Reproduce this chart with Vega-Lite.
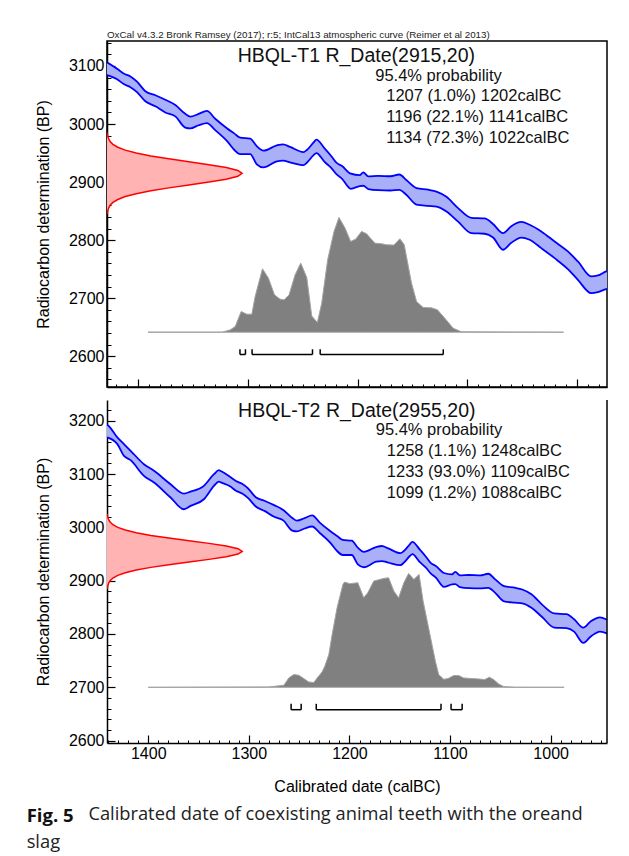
{
  "$schema": "https://vega.github.io/schema/vega-lite/v6.json",
  "padding": {"left": 26, "top": 29, "right": 5, "bottom": 5},
  "background": "white",
  "datasets": {
    "intcal": [
      {"cal": 1443, "hi": 3194, "lo": 3170},
      {"cal": 1440.7, "hi": 3192.5, "lo": 3168.7},
      {"cal": 1430.7, "hi": 3168.7, "lo": 3156.2},
      {"cal": 1424.1, "hi": 3156.2, "lo": 3134.3},
      {"cal": 1417.5, "hi": 3143.7, "lo": 3126.1},
      {"cal": 1404.3, "hi": 3118.6, "lo": 3096.7},
      {"cal": 1394.3, "hi": 3106.1, "lo": 3084.1},
      {"cal": 1377.8, "hi": 3081.0, "lo": 3056.0},
      {"cal": 1364.6, "hi": 3063.5, "lo": 3034.0},
      {"cal": 1357.9, "hi": 3067.2, "lo": 3040.3},
      {"cal": 1344.7, "hi": 3077.9, "lo": 3052.8},
      {"cal": 1334.7, "hi": 3099.8, "lo": 3077.9},
      {"cal": 1329.8, "hi": 3107.3, "lo": 3086.0},
      {"cal": 1327.9, "hi": 3105.7, "lo": 3084.4},
      {"cal": 1318.8, "hi": 3095, "lo": 3077},
      {"cal": 1312.8, "hi": 3087, "lo": 3068.8},
      {"cal": 1306.7, "hi": 3081.8, "lo": 3063.5},
      {"cal": 1300.7, "hi": 3073, "lo": 3055},
      {"cal": 1293.1, "hi": 3056.5, "lo": 3039.2},
      {"cal": 1284.0, "hi": 3049.6, "lo": 3030.5},
      {"cal": 1274.9, "hi": 3041.7, "lo": 3019.9},
      {"cal": 1265.8, "hi": 3032.7, "lo": 3013.2},
      {"cal": 1256.8, "hi": 3017.6, "lo": 2993.9},
      {"cal": 1252.2, "hi": 3012.7, "lo": 2992.4},
      {"cal": 1244.6, "hi": 3017.4, "lo": 2997.9},
      {"cal": 1237.1, "hi": 3022.5, "lo": 3001.7},
      {"cal": 1229.5, "hi": 3009, "lo": 2989.5},
      {"cal": 1218.9, "hi": 2992.8, "lo": 2970.9},
      {"cal": 1212.3, "hi": 2983.9, "lo": 2955.7},
      {"cal": 1206.8, "hi": 2976.6, "lo": 2948.2},
      {"cal": 1197.7, "hi": 2975, "lo": 2948.2},
      {"cal": 1191.7, "hi": 2962, "lo": 2930.6},
      {"cal": 1185.6, "hi": 2954.2, "lo": 2925.2},
      {"cal": 1173.5, "hi": 2963.2, "lo": 2935.6},
      {"cal": 1167.8, "hi": 2965.1, "lo": 2936.9},
      {"cal": 1161.4, "hi": 2960.5, "lo": 2933.9},
      {"cal": 1149.3, "hi": 2951.6, "lo": 2929.1},
      {"cal": 1145.9, "hi": 2955.7, "lo": 2933.8},
      {"cal": 1140.0, "hi": 2968.2, "lo": 2946.3},
      {"cal": 1137.5, "hi": 2973, "lo": 2950},
      {"cal": 1130.0, "hi": 2958.2, "lo": 2934.7},
      {"cal": 1124.0, "hi": 2945, "lo": 2924.4},
      {"cal": 1119.0, "hi": 2933, "lo": 2913.2},
      {"cal": 1114.1, "hi": 2927.5, "lo": 2905.6},
      {"cal": 1106.1, "hi": 2914.4, "lo": 2888.4},
      {"cal": 1098.1, "hi": 2911.8, "lo": 2893.0},
      {"cal": 1094.8, "hi": 2916.7, "lo": 2893.7},
      {"cal": 1090.2, "hi": 2909.9, "lo": 2888.0},
      {"cal": 1081.2, "hi": 2910.7, "lo": 2886},
      {"cal": 1070, "hi": 2910, "lo": 2885.5},
      {"cal": 1062, "hi": 2913, "lo": 2886.5},
      {"cal": 1055.4, "hi": 2903, "lo": 2877.7},
      {"cal": 1046.3, "hi": 2889.7, "lo": 2861.2},
      {"cal": 1035.7, "hi": 2886.8, "lo": 2858.9},
      {"cal": 1028.2, "hi": 2883.5, "lo": 2857.6},
      {"cal": 1019.1, "hi": 2874.6, "lo": 2849.2},
      {"cal": 1008.5, "hi": 2855.2, "lo": 2831.8},
      {"cal": 996.4, "hi": 2838.5, "lo": 2812},
      {"cal": 984.3, "hi": 2837.3, "lo": 2811},
      {"cal": 976.7, "hi": 2827.8, "lo": 2804.4},
      {"cal": 967.6, "hi": 2811.9, "lo": 2783.4},
      {"cal": 960.1, "hi": 2823.9, "lo": 2795.4},
      {"cal": 951.0, "hi": 2831.3, "lo": 2804.4},
      {"cal": 943.4, "hi": 2826.4, "lo": 2800.6},
      {"cal": 932.8, "hi": 2814.9, "lo": 2786.2},
      {"cal": 920.7, "hi": 2797.7, "lo": 2769.0},
      {"cal": 908.6, "hi": 2780.5, "lo": 2750.0},
      {"cal": 899.5, "hi": 2763.2, "lo": 2731.6},
      {"cal": 887.4, "hi": 2737.4, "lo": 2708.6},
      {"cal": 881.3, "hi": 2739.1, "lo": 2710.3},
      {"cal": 873.8, "hi": 2746.0, "lo": 2715.5},
      {"cal": 871, "hi": 2747.5, "lo": 2716.5}
    ],
    "red1": [
      {"bp": 2845, "cal": 1327.7}, {"bp": 2850, "cal": 1327.4}, {"bp": 2855, "cal": 1326.6},
      {"bp": 2860, "cal": 1325.2}, {"bp": 2865, "cal": 1322.6}, {"bp": 2870, "cal": 1318.2},
      {"bp": 2875, "cal": 1311.4}, {"bp": 2880, "cal": 1301.4}, {"bp": 2885, "cal": 1288.1},
      {"bp": 2890, "cal": 1271.7}, {"bp": 2895, "cal": 1253.5}, {"bp": 2900, "cal": 1235.2},
      {"bp": 2905, "cal": 1219.5}, {"bp": 2910, "cal": 1208.9}, {"bp": 2915, "cal": 1205.1},
      {"bp": 2920, "cal": 1208.9}, {"bp": 2925, "cal": 1219.5}, {"bp": 2930, "cal": 1235.2},
      {"bp": 2935, "cal": 1253.5}, {"bp": 2940, "cal": 1271.7}, {"bp": 2945, "cal": 1288.1},
      {"bp": 2950, "cal": 1301.4}, {"bp": 2955, "cal": 1311.4}, {"bp": 2960, "cal": 1318.2},
      {"bp": 2965, "cal": 1322.6}, {"bp": 2970, "cal": 1325.2}, {"bp": 2975, "cal": 1326.6},
      {"bp": 2980, "cal": 1327.4}, {"bp": 2985, "cal": 1327.7}
    ],
    "red2": [
      {"bp": 2885, "cal": 1440.7}, {"bp": 2890, "cal": 1440.3}, {"bp": 2895, "cal": 1439.5},
      {"bp": 2900, "cal": 1437.9}, {"bp": 2905, "cal": 1435.1}, {"bp": 2910, "cal": 1430.3},
      {"bp": 2915, "cal": 1422.8}, {"bp": 2920, "cal": 1411.9}, {"bp": 2925, "cal": 1397.4},
      {"bp": 2930, "cal": 1379.5}, {"bp": 2935, "cal": 1359.5}, {"bp": 2940, "cal": 1339.6},
      {"bp": 2945, "cal": 1322.4}, {"bp": 2950, "cal": 1310.7}, {"bp": 2955, "cal": 1306.6},
      {"bp": 2960, "cal": 1310.7}, {"bp": 2965, "cal": 1322.4}, {"bp": 2970, "cal": 1339.6},
      {"bp": 2975, "cal": 1359.5}, {"bp": 2980, "cal": 1379.5}, {"bp": 2985, "cal": 1397.4},
      {"bp": 2990, "cal": 1411.9}, {"bp": 2995, "cal": 1422.8}, {"bp": 3000, "cal": 1430.3},
      {"bp": 3005, "cal": 1435.1}, {"bp": 3010, "cal": 1437.9}, {"bp": 3015, "cal": 1439.5},
      {"bp": 3020, "cal": 1440.3}, {"bp": 3025, "cal": 1440.7}
    ],
    "grey1": [
      {"cal": 1290.7, "bp": 2641.4}, {"cal": 1223.4, "bp": 2641.4}, {"cal": 1215.9, "bp": 2645.4},
      {"cal": 1211.3, "bp": 2651.2}, {"cal": 1205.9, "bp": 2677.0}, {"cal": 1200.8, "bp": 2672.4},
      {"cal": 1196.2, "bp": 2672.4}, {"cal": 1193.2, "bp": 2702.9}, {"cal": 1186.5, "bp": 2750.6},
      {"cal": 1181.1, "bp": 2734.5}, {"cal": 1175.6, "bp": 2705.7}, {"cal": 1170.5, "bp": 2698.3},
      {"cal": 1166.8, "bp": 2697.1}, {"cal": 1162.3, "bp": 2705.7}, {"cal": 1156.8, "bp": 2740.2},
      {"cal": 1151.7, "bp": 2760.4}, {"cal": 1146.2, "bp": 2735.6}, {"cal": 1141.7, "bp": 2669.5},
      {"cal": 1136.6, "bp": 2658.0}, {"cal": 1132.6, "bp": 2691.4}, {"cal": 1127.2, "bp": 2766.1},
      {"cal": 1121.4, "bp": 2815.0}, {"cal": 1116.9, "bp": 2839.1}, {"cal": 1111.4, "bp": 2820.7},
      {"cal": 1106.3, "bp": 2797.7}, {"cal": 1101.7, "bp": 2801.7}, {"cal": 1096.3, "bp": 2815.0},
      {"cal": 1091.8, "bp": 2810.9}, {"cal": 1084.2, "bp": 2794.8}, {"cal": 1078.1, "bp": 2793.7},
      {"cal": 1073.6, "bp": 2791.9}, {"cal": 1066.9, "bp": 2791.4}, {"cal": 1061.5, "bp": 2802.3},
      {"cal": 1057.5, "bp": 2791.9}, {"cal": 1050.9, "bp": 2725.9}, {"cal": 1046.3, "bp": 2694.3},
      {"cal": 1040.3, "bp": 2683.9}, {"cal": 1032.7, "bp": 2683.3}, {"cal": 1027.3, "bp": 2679.9},
      {"cal": 1020.6, "bp": 2665.5}, {"cal": 1013.0, "bp": 2648.3}, {"cal": 1005.5, "bp": 2642.0},
      {"cal": 912.5, "bp": 2641.4}
    ],
    "grey2": [
      {"cal": 1400, "bp": 2700}, {"cal": 1280.1, "bp": 2700.7}, {"cal": 1265.2, "bp": 2703.8},
      {"cal": 1260.3, "bp": 2717.6}, {"cal": 1255.3, "bp": 2723.9}, {"cal": 1250.3, "bp": 2722.6},
      {"cal": 1245.4, "bp": 2716.3}, {"cal": 1240.4, "bp": 2710.1}, {"cal": 1235.4, "bp": 2708.8},
      {"cal": 1232.1, "bp": 2717.6}, {"cal": 1227.2, "bp": 2728.9}, {"cal": 1224.5, "bp": 2739.5},
      {"cal": 1220.5, "bp": 2761.5}, {"cal": 1217.2, "bp": 2799.1}, {"cal": 1212.3, "bp": 2849.2},
      {"cal": 1206.5, "bp": 2893.0}, {"cal": 1204.9, "bp": 2897.4}, {"cal": 1199.7, "bp": 2894.3},
      {"cal": 1191.7, "bp": 2896.2}, {"cal": 1185.8, "bp": 2868.0}, {"cal": 1181.8, "bp": 2877.4},
      {"cal": 1175.8, "bp": 2899.3}, {"cal": 1165.9, "bp": 2904.3}, {"cal": 1161.1, "bp": 2905.6},
      {"cal": 1155.9, "bp": 2880.5}, {"cal": 1151.1, "bp": 2868.0}, {"cal": 1145.9, "bp": 2896.2},
      {"cal": 1141.2, "bp": 2913.7}, {"cal": 1136.0, "bp": 2902.4}, {"cal": 1130.8, "bp": 2911.8},
      {"cal": 1126.8, "bp": 2861.7}, {"cal": 1120.0, "bp": 2799.1}, {"cal": 1114.6, "bp": 2748.9},
      {"cal": 1111.3, "bp": 2723.9}, {"cal": 1106.3, "bp": 2715.1}, {"cal": 1102.0, "bp": 2716.3},
      {"cal": 1096.4, "bp": 2722.0}, {"cal": 1091.4, "bp": 2722.0}, {"cal": 1086.5, "bp": 2717.6},
      {"cal": 1078.2, "bp": 2716.3}, {"cal": 1071.6, "bp": 2715.7}, {"cal": 1065.6, "bp": 2714.5},
      {"cal": 1061.0, "bp": 2718.9}, {"cal": 1056.7, "bp": 2714.5}, {"cal": 1051.7, "bp": 2706.3},
      {"cal": 1046.8, "bp": 2701.3}, {"cal": 1035.2, "bp": 2700.1}, {"cal": 986.6, "bp": 2700}
    ],
    "ranges1": [{"a": 1207, "b": 1202}, {"a": 1196, "b": 1141}, {"a": 1134, "b": 1022}],
    "ranges2": [{"a": 1258, "b": 1248}, {"a": 1233, "b": 1109}, {"a": 1099, "b": 1088}],
    "info1": [
      {"t": "95.4% probability", "cal": 1083.9, "bp": 3083.3},
      {"t": "1207 (1.0%) 1202calBC", "cal": 1073.9, "bp": 3047.8},
      {"t": "1196 (22.1%) 1141calBC", "cal": 1073.9, "bp": 3011.6},
      {"t": "1134 (72.3%) 1022calBC", "cal": 1073.9, "bp": 2975.9}
    ],
    "info2": [
      {"t": "95.4% probability", "cal": 1173.9, "bp": 3182.5},
      {"t": "1258 (1.1%) 1248calBC", "cal": 1162.9, "bp": 3143},
      {"t": "1233 (93.0%) 1109calBC", "cal": 1162.9, "bp": 3104},
      {"t": "1099 (1.2%) 1088calBC", "cal": 1162.9, "bp": 3065.4}
    ],
    "one": [{}]
  },
  "title": {
    "text": "Fig. 5",
    "subtitle": ["\u200b\u00a0\u00a0\u00a0\u00a0\u00a0\u00a0\u00a0\u00a0\u00a0\u00a0\u00a0\u00a0\u00a0Calibrated date of coexisting animal teeth with the oreand", "slag"],
    "orient": "bottom", "anchor": "start", "frame": "bounds", "dx": -8, "offset": 13,
    "font": "Open Sans", "fontSize": 18.5, "fontWeight": "bold", "color": "#111111",
    "subtitleFont": "Open Sans", "subtitleFontSize": 18.3, "subtitleFontWeight": "normal",
    "subtitleColor": "#222222", "subtitlePadding": -20, "subtitleLineHeight": 28
  },
  "spacing": 10,
  "resolve": {"scale": {"x": "independent", "y": "independent"}},
  "vconcat": [
    {
      "width": 500, "height": 346,
      "title": {"text": "OxCal v4.3.2 Bronk Ramsey (2017); r:5; IntCal13 atmospheric curve (Reimer et al 2013)", "anchor": "start", "frame": "group", "fontSize": 9.8, "fontWeight": "normal", "font": "Liberation Sans", "offset": 1, "color": "#222222"},
      "view": {"stroke": "black", "strokeWidth": 1.5},
      "resolve": {"axis": {"x": "independent", "y": "independent"}},
      "layer": [
        {
          "data": {"name": "intcal"},
          "mark": {"type": "area", "color": "#aab0f8", "clip": true, "interpolate": "monotone"},
          "encoding": {
            "x": {"field": "cal", "type": "quantitative", "scale": {"domain": [1328, 873], "nice": false, "zero": false},
                  "axis": {"orient": "bottom", "values": [1300, 1200, 1100, 1000, 900], "labels": false, "tickSize": -8, "tickWidth": 1.2, "domain": true, "domainWidth": 1.5, "title": null, "grid": false}},
            "y": {"field": "hi", "type": "quantitative", "scale": {"domain": [2547, 3143], "nice": false, "zero": false},
                  "axis": {"orient": "left", "values": [2600, 2700, 2800, 2900, 3000, 3100], "format": "d", "labelFontSize": 16, "tickSize": -8, "tickWidth": 1.2, "labelPadding": 11, "domainWidth": 1.5, "title": "Radiocarbon determination (BP)", "titleFontSize": 16, "titlePadding": 17, "grid": false}},
            "y2": {"field": "lo"}
          }
        },
        {
          "data": {"name": "intcal"},
          "mark": {"type": "line", "color": "#0000ff", "strokeWidth": 1.8, "clip": true, "interpolate": "monotone"},
          "encoding": {
            "x": {"field": "cal", "type": "quantitative",
                  "axis": {"orient": "bottom", "values": [1320,1310,1300,1290,1280,1270,1260,1250,1240,1230,1220,1210,1200,1190,1180,1170,1160,1150,1140,1130,1120,1110,1100,1090,1080,1070,1060,1050,1040,1030,1020,1010,1000,990,980,970,960,950,940,930,920,910,900,890,880], "labels": false, "tickSize": -3, "tickWidth": 1, "domain": false, "title": null, "grid": false}},
            "y": {"field": "hi", "type": "quantitative",
                  "axis": {"orient": "left", "values": [2560,2580,2600,2620,2640,2660,2680,2700,2720,2740,2760,2780,2800,2820,2840,2860,2880,2900,2920,2940,2960,2980,3000,3020,3040,3060,3080,3100,3120,3140], "labels": false, "tickSize": -4, "tickWidth": 1, "domain": false, "title": null, "grid": false}}
          }
        },
        {
          "data": {"name": "intcal"},
          "mark": {"type": "line", "color": "#0000ff", "strokeWidth": 1.8, "clip": true, "interpolate": "monotone"},
          "encoding": {
            "x": {"field": "cal", "type": "quantitative", "axis": null},
            "y": {"field": "lo", "type": "quantitative", "axis": null}
          }
        },
        {
          "data": {"name": "red1"},
          "mark": {"type": "area", "orient": "horizontal", "color": "#ffb3b3", "clip": true},
          "encoding": {
            "y": {"field": "bp", "type": "quantitative", "axis": null},
            "x": {"field": "cal", "type": "quantitative", "axis": null},
            "x2": {"datum": 1328}
          }
        },
        {
          "data": {"name": "red1"},
          "mark": {"type": "line", "color": "#ff0000", "strokeWidth": 1.5, "clip": true},
          "encoding": {
            "y": {"field": "bp", "type": "quantitative", "axis": null},
            "x": {"field": "cal", "type": "quantitative", "axis": null},
            "order": {"field": "bp", "type": "quantitative"}
          }
        },
        {
          "data": {"name": "grey1"},
          "mark": {"type": "area", "color": "#808080", "stroke": "#a3a3a3", "strokeWidth": 1},
          "encoding": {
            "x": {"field": "cal", "type": "quantitative", "axis": null},
            "y": {"field": "bp", "type": "quantitative", "axis": null},
            "y2": {"datum": 2641.4}
          }
        },
        {
          "data": {"name": "ranges1"},
          "mark": {"type": "rule", "color": "black", "strokeWidth": 1.5},
          "encoding": {
            "x": {"field": "a", "type": "quantitative", "axis": null},
            "x2": {"field": "b"},
            "y": {"datum": 2603, "axis": null}
          }
        },
        {
          "data": {"name": "ranges1"},
          "mark": {"type": "rule", "color": "black", "strokeWidth": 1.5},
          "encoding": {
            "x": {"field": "a", "type": "quantitative", "axis": null},
            "y": {"datum": 2603, "axis": null},
            "y2": {"datum": 2612}
          }
        },
        {
          "data": {"name": "ranges1"},
          "mark": {"type": "rule", "color": "black", "strokeWidth": 1.5},
          "encoding": {
            "x": {"field": "b", "type": "quantitative", "axis": null},
            "y": {"datum": 2603, "axis": null},
            "y2": {"datum": 2612}
          }
        },
        {
          "data": {"name": "one"},
          "mark": {"type": "text", "font": "Liberation Sans", "fontSize": 19.5, "align": "center", "baseline": "middle", "color": "#111111"},
          "encoding": {
            "x": {"datum": 1101.1, "axis": null},
            "y": {"datum": 3116.7, "axis": null},
            "text": {"value": "HBQL-T1 R_Date(2915,20)"}
          }
        },
        {
          "data": {"name": "info1"},
          "mark": {"type": "text", "font": "Liberation Sans", "fontSize": 16.5, "align": "left", "baseline": "middle", "color": "#111111"},
          "encoding": {
            "x": {"field": "cal", "type": "quantitative", "axis": null},
            "y": {"field": "bp", "type": "quantitative", "axis": null},
            "text": {"field": "t"}
          }
        }
      ]
    },
    {
      "width": 500, "height": 343,
      "view": {"stroke": null},
      "resolve": {"axis": {"x": "independent", "y": "independent"}},
      "layer": [
        {
          "data": {"name": "intcal"},
          "mark": {"type": "area", "color": "#aab0f8", "clip": true, "interpolate": "monotone"},
          "encoding": {
            "x": {"field": "cal", "type": "quantitative", "scale": {"domain": [1441, 944], "nice": false, "zero": false},
                  "axis": {"orient": "bottom", "values": [1400, 1300, 1200, 1100, 1000], "format": "d", "labels": true, "labelFontSize": 16, "labelPadding": 10, "tickSize": -8, "tickWidth": 1.2, "domain": true, "domainWidth": 1.5, "title": "Calibrated date (calBC)", "titleFontSize": 16, "titlePadding": 17, "grid": false}},
            "y": {"field": "hi", "type": "quantitative", "scale": {"domain": [2595.5, 3239], "nice": false, "zero": false},
                  "axis": {"orient": "left", "values": [2600, 2700, 2800, 2900, 3000, 3100, 3200], "format": "d", "labelFontSize": 16, "tickSize": -8, "tickWidth": 1.2, "labelPadding": 11, "domainWidth": 1.5, "title": "Radiocarbon determination (BP)", "titleFontSize": 16, "titlePadding": 17, "grid": false}},
            "y2": {"field": "lo"}
          }
        },
        {
          "data": {"name": "intcal"},
          "mark": {"type": "line", "color": "#0000ff", "strokeWidth": 1.8, "clip": true, "interpolate": "monotone"},
          "encoding": {
            "x": {"field": "cal", "type": "quantitative",
                  "axis": {"orient": "bottom", "values": [1440,1430,1420,1410,1400,1390,1380,1370,1360,1350,1340,1330,1320,1310,1300,1290,1280,1270,1260,1250,1240,1230,1220,1210,1200,1190,1180,1170,1160,1150,1140,1130,1120,1110,1100,1090,1080,1070,1060,1050,1040,1030,1020,1010,1000,990,980,970,960,950], "labels": false, "tickSize": -3, "tickWidth": 1, "domain": false, "title": null, "grid": false}},
            "y": {"field": "hi", "type": "quantitative",
                  "axis": {"orient": "left", "values": [2600,2620,2640,2660,2680,2700,2720,2740,2760,2780,2800,2820,2840,2860,2880,2900,2920,2940,2960,2980,3000,3020,3040,3060,3080,3100,3120,3140,3160,3180,3200,3220], "labels": false, "tickSize": -4, "tickWidth": 1, "domain": false, "title": null, "grid": false}}
          }
        },
        {
          "data": {"name": "intcal"},
          "mark": {"type": "line", "color": "#0000ff", "strokeWidth": 1.8, "clip": true, "interpolate": "monotone"},
          "encoding": {
            "x": {"field": "cal", "type": "quantitative", "axis": null},
            "y": {"field": "lo", "type": "quantitative", "axis": null}
          }
        },
        {
          "data": {"name": "red2"},
          "mark": {"type": "area", "orient": "horizontal", "color": "#ffb3b3", "clip": true},
          "encoding": {
            "y": {"field": "bp", "type": "quantitative", "axis": null},
            "x": {"field": "cal", "type": "quantitative", "axis": null},
            "x2": {"datum": 1441}
          }
        },
        {
          "data": {"name": "red2"},
          "mark": {"type": "line", "color": "#ff0000", "strokeWidth": 1.5, "clip": true},
          "encoding": {
            "y": {"field": "bp", "type": "quantitative", "axis": null},
            "x": {"field": "cal", "type": "quantitative", "axis": null},
            "order": {"field": "bp", "type": "quantitative"}
          }
        },
        {
          "data": {"name": "grey2"},
          "mark": {"type": "area", "color": "#808080", "stroke": "#a3a3a3", "strokeWidth": 1},
          "encoding": {
            "x": {"field": "cal", "type": "quantitative", "axis": null},
            "y": {"field": "bp", "type": "quantitative", "axis": null},
            "y2": {"datum": 2700}
          }
        },
        {
          "data": {"name": "ranges2"},
          "mark": {"type": "rule", "color": "black", "strokeWidth": 1.5},
          "encoding": {
            "x": {"field": "a", "type": "quantitative", "axis": null},
            "x2": {"field": "b"},
            "y": {"datum": 2658, "axis": null}
          }
        },
        {
          "data": {"name": "ranges2"},
          "mark": {"type": "rule", "color": "black", "strokeWidth": 1.5},
          "encoding": {
            "x": {"field": "a", "type": "quantitative", "axis": null},
            "y": {"datum": 2658, "axis": null},
            "y2": {"datum": 2669}
          }
        },
        {
          "data": {"name": "ranges2"},
          "mark": {"type": "rule", "color": "black", "strokeWidth": 1.5},
          "encoding": {
            "x": {"field": "b", "type": "quantitative", "axis": null},
            "y": {"datum": 2658, "axis": null},
            "y2": {"datum": 2669}
          }
        },
        {
          "data": {"name": "one"},
          "mark": {"type": "rule", "color": "black", "strokeWidth": 1.5},
          "encoding": {
            "x": {"datum": 944, "axis": null}
          }
        },
        {
          "data": {"name": "one"},
          "mark": {"type": "text", "font": "Liberation Sans", "fontSize": 19.5, "align": "center", "baseline": "middle", "color": "#111111"},
          "encoding": {
            "x": {"datum": 1192.7, "axis": null},
            "y": {"datum": 3218.8, "axis": null},
            "text": {"value": "HBQL-T2 R_Date(2955,20)"}
          }
        },
        {
          "data": {"name": "info2"},
          "mark": {"type": "text", "font": "Liberation Sans", "fontSize": 16.5, "align": "left", "baseline": "middle", "color": "#111111"},
          "encoding": {
            "x": {"field": "cal", "type": "quantitative", "axis": null},
            "y": {"field": "bp", "type": "quantitative", "axis": null},
            "text": {"field": "t"}
          }
        }
      ]
    }
  ],
  "config": {
    "font": "Liberation Sans",
    "axis": {"labelFont": "Liberation Sans", "titleFont": "Liberation Sans", "labelColor": "black", "titleColor": "black", "domainColor": "black", "tickColor": "black", "titleFontWeight": "normal", "grid": false}
  }
}
